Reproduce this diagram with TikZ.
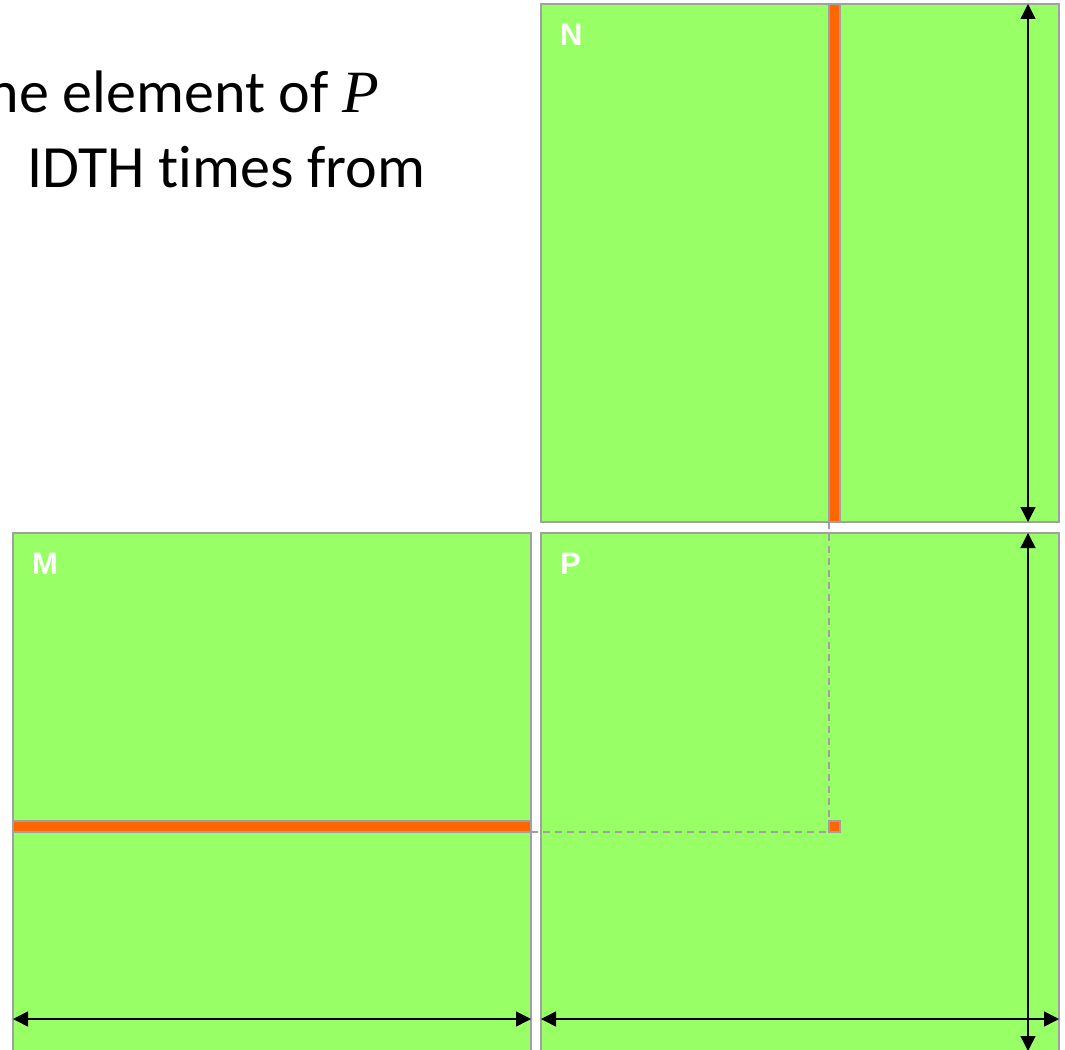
\documentclass[tikz,border=0pt]{standalone}
\usepackage{fontspec}
\setmainfont[Ligatures=NoCommon,Contextuals=NoAlternate]{Carlito}
\newfontfamily\labelfont{Liberation Sans}
\newfontfamily\varfont{Liberation Serif}
\usetikzlibrary{arrows.meta}
\definecolor{matgreen}{RGB}{153,255,102}
\definecolor{striporange}{RGB}{255,102,0}
\definecolor{edgegray}{RGB}{160,160,160}
\tikzset{
  matbox/.style={rectangle,fill=matgreen,draw=edgegray,line width=2pt,
    inner sep=0pt,outer sep=0pt,minimum width=518pt,minimum height=518pt,anchor=north west},
  strip/.style={rectangle,fill=striporange,draw=edgegray,line width=1.5pt,
    inner sep=0pt,outer sep=0pt,anchor=north west},
  matlabel/.style={text=white,font=\labelfont\bfseries\fontsize{31}{31}\selectfont,
    anchor=base west,inner sep=0pt},
  slidetext/.style={font=\fontsize{60}{60}\selectfont,inner sep=0pt},
  dim/.style={{Triangle[length=15pt,width=15pt]}-{Triangle[length=15pt,width=15pt]},line width=1.5pt},
  guide/.style={draw=edgegray,line width=1.5pt,dash pattern=on 7pt off 5pt}
}
\begin{document}
\begin{tikzpicture}[x=1pt,y=-1pt]
\useasboundingbox (0,0) rectangle (1065,1049);
\clip (0,0) rectangle (1065,1049);
% slide text, cut at the left edge
\node[slidetext,anchor=base east] (line1) at (379,112) {ne element of {\varfont\itshape P}};
\node[slidetext,anchor=base west] (line2) at (27,187) {IDTH t{}imes from};
% the three matrices
\node[matbox] (N) at (541,4) {};
\node[strip,minimum width=11pt,minimum height=518pt] (col) at (829,4) {};
\node[matbox] (M) at (13,533) {};
\node[strip,minimum width=518pt,minimum height=11pt] (row) at (13,821) {};
\node[matbox] (P) at (541,533) {};
\node[strip,minimum width=11pt,minimum height=11pt] (elem) at (829,821) {};
% guides to the element
\draw[guide] (col.south west) -- (elem.north west);
\draw[guide] (row.south east) -- (elem.south west);
% dimension arrows
\coordinate (Ntop) at (1028,4);
\coordinate (Nbot) at (1028,522);
\coordinate (Ptop) at (1028,533);
\coordinate (Pbot) at (1028,1051);
\coordinate (Mleft) at (13,1019);
\coordinate (Mright) at (531,1019);
\coordinate (Pleft) at (541,1019);
\coordinate (Pright) at (1059,1019);
\draw[dim] (Ntop) -- (Nbot);
\draw[dim] (Ptop) -- (Pbot);
\draw[dim] (Mleft) -- (Mright);
\draw[dim] (Pleft) -- (Pright);
% labels
\node[matlabel] (Nlab) at (560,46) {N};
\node[matlabel] (Mlab) at (32,574) {M};
\node[matlabel] (Plab) at (560,574) {P};
\end{tikzpicture}
\end{document}
